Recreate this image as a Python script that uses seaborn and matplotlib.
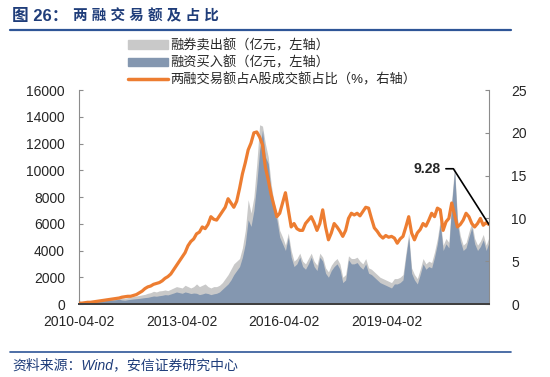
import numpy as np
import pandas as pd
import matplotlib
matplotlib.use('Agg')
import matplotlib.pyplot as plt
import matplotlib.dates as mdates
from matplotlib.patches import Patch
from matplotlib.lines import Line2D
import seaborn as sns

# monthly readings, 2010-04 .. 2022-03
buy = [40, 60, 80, 100, 120, 150, 170, 200, 220, 250, 280, 300,
       300, 320, 350, 300, 280, 320, 350, 380, 400, 420, 450, 480,
       500, 550, 600, 580, 620, 650, 700, 680, 750, 820, 900, 850,
       800, 900, 850, 780, 820, 800, 700, 750, 820, 780, 700, 760,
       800, 900, 1100, 1300, 1500, 1800, 2200, 2500, 2800, 3500, 4500, 6300,
       5800, 7000, 9000, 11500, 13000, 11000, 10500, 8300, 7000, 6300, 5000, 4500,
       4000, 5000, 3500, 2800, 3000, 3500, 2800, 2600, 3000, 3500, 2800, 2500,
       3500, 3200, 2300, 2000, 2500, 2800, 3000, 2600, 1600, 1800, 3300, 3000,
       3000, 3100, 2800, 2600, 3000, 2300, 2200, 2000, 1800, 1600, 1500, 1400,
       1300, 1200, 1500, 1500, 1600, 1800, 3500, 5000, 2300, 1800, 1500, 2200,
       3000, 2600, 2800, 2700, 3500, 4500, 6000, 4000, 4500, 4200, 7500, 10000,
       6000, 4700, 4000, 4200, 5000, 5700, 4500, 4000, 4300, 4800, 4000, 4600]

sell = [80, 110, 140, 170, 200, 240, 260, 300, 330, 360, 400, 420,
        450, 480, 520, 460, 430, 480, 520, 560, 600, 640, 680, 720,
        800, 850, 950, 900, 980, 1000, 1050, 1000, 1100, 1200, 1300, 1250,
        1200, 1400, 1300, 1200, 1300, 1500, 1300, 1400, 1500, 1300, 1200, 1300,
        1300, 1400, 1600, 1900, 2200, 2600, 3000, 3200, 3400, 4200, 5500, 7800,
        6800, 8000, 10500, 13400, 13300, 12000, 11000, 9000, 7600, 6800, 5500, 5000,
        4400, 5300, 4000, 3200, 3400, 3800, 3200, 3000, 3400, 3800, 3200, 2900,
        3800, 3500, 2700, 2400, 2900, 3200, 3400, 3000, 2000, 2200, 3600, 3400,
        3400, 3500, 3200, 3000, 3400, 2700, 2600, 2400, 2200, 2000, 1900, 1800,
        1700, 1600, 1900, 1900, 2000, 2200, 3800, 5300, 2700, 2200, 1900, 2600,
        3400, 3000, 3200, 3100, 3900, 4900, 6300, 4400, 4900, 4600, 7800, 10300,
        6400, 5100, 4400, 4600, 5400, 6100, 4900, 4400, 4700, 5200, 4400, 5000]

ratio = [0.1, 0.1, 0.15, 0.2, 0.2, 0.25, 0.3, 0.35, 0.4, 0.45, 0.5, 0.55,
         0.6, 0.65, 0.7, 0.8, 0.85, 0.9, 0.9, 1.0, 1.1, 1.3, 1.5, 1.8,
         2.0, 2.1, 2.3, 2.4, 2.5, 2.7, 3.0, 3.2, 3.5, 4.0, 4.5, 5.0,
         5.5, 6.0, 6.8, 7.3, 7.6, 8.2, 8.4, 9.0, 8.8, 9.3, 10.2, 9.9,
         9.8, 10.3, 10.8, 11.3, 12.3, 11.8, 11.3, 12.0, 13.5, 15.2, 16.5, 18.0,
         18.8, 20.0, 20.1, 19.5, 18.6, 16.0, 14.5, 12.8, 11.5, 10.2, 10.6, 11.8,
         13.0, 11.0, 9.0, 9.4, 8.8, 8.6, 8.6, 9.4, 9.8, 10.2, 9.5, 8.6,
         9.4, 11.0, 9.0, 7.5, 8.3, 9.4, 9.0, 8.5, 7.9, 8.6, 10.0, 10.6,
         10.4, 10.6, 10.3, 10.8, 11.3, 11.2, 10.0, 8.9, 8.5, 8.0, 7.7, 8.0,
         7.8, 7.9, 7.7, 7.1, 7.6, 7.9, 9.0, 10.2, 8.3, 7.5, 8.3, 8.7,
         9.4, 9.1, 9.8, 10.6, 10.2, 11.2, 11.0, 8.6, 9.6, 10.0, 11.8, 10.4,
         9.0, 9.3, 9.8, 10.6, 10.2, 9.4, 9.0, 9.4, 10.0, 9.2, 9.5, 9.28]

tick_dates = ['2010-04-02', '2013-04-02', '2016-04-02', '2019-04-02']
labels = ['融券卖出额（亿元，左轴）', '融资买入额（亿元，左轴）', '两融交易额占A股成交额占比（%，右轴）']

dates = pd.date_range('2010-04-02', '2022-03-25', periods=len(buy))

sns.set_style('ticks')
plt.rcParams['font.family'] = ['Liberation Sans', 'Noto Sans CJK SC']
plt.rcParams['axes.unicode_minus'] = False

c_gray = '#C9C9C9'
c_blue = '#8497B0'
c_orange = '#ED7D31'
c_title = '#1F3D7A'

fig = plt.figure(figsize=(5.5, 3.77), dpi=100)
ax = fig.add_axes([79/550, 1-304/377, 410/550, 214/377])

ax.fill_between(dates, sell, color=c_gray, lw=0)
ax.fill_between(dates, buy, color=c_blue, lw=0)
ax.set_ylim(0, 16000)
ax.set_yticks(range(0, 16001, 2000))
ax.set_xlim(pd.Timestamp('2010-04-02'), pd.Timestamp('2022-03-25'))
ax.set_xticks(pd.to_datetime(tick_dates))
ax.xaxis.set_major_formatter(mdates.DateFormatter('%Y-%m-%d'))

ax2 = ax.twinx()
sns.lineplot(x=dates, y=ratio, ax=ax2, color=c_orange, lw=2.3, legend=False)
ax2.set_ylim(0, 25)
ax2.set_yticks(range(0, 26, 5))
ax2.set_ylabel('')

for a in (ax, ax2):
    a.spines['top'].set_visible(False)
    a.spines['left'].set_color('#8C8C8C')
    a.spines['right'].set_color('#8C8C8C')
    a.spines['bottom'].set_color('#404040')
    a.spines['bottom'].set_linewidth(1.4)
ax.spines['right'].set_visible(False)
ax2.spines['left'].set_visible(False)

ax.tick_params(axis='y', direction='in', length=3, color='#8C8C8C', labelsize=10, pad=10)
ax.tick_params(axis='x', direction='in', length=3, color='#404040', labelsize=10, pad=8)
ax2.tick_params(axis='y', direction='in', length=3, color='#8C8C8C', labelsize=10, pad=16)

# label of the last ratio value with an elbow leader
elbow_a = pd.Timestamp('2020-12-20')
elbow_b = pd.Timestamp('2021-03-10')
ax2.plot([elbow_a, elbow_b, dates[-1]], [15.8, 15.8, ratio[-1]], color='black', lw=1.2)
ax2.text(elbow_a - pd.Timedelta(days=60), 15.8, f'{ratio[-1]:.2f}', ha='right', va='center',
         fontsize=10, fontweight='bold')

handles = [Patch(color=c_gray), Patch(color=c_blue), Line2D([], [], color=c_orange, lw=2.5)]
fig.legend(handles, labels, loc='upper left', bbox_to_anchor=(128/550, 1-39/377), frameon=False,
           fontsize=9.5, handlelength=3.0, handleheight=0.6, handletextpad=0.2,
           labelspacing=0.3, borderpad=0, borderaxespad=0)

# header and footer
fig.text(12/550, 1-16/377, '图 26：', ha='left', va='center', fontsize=12,
         fontweight='bold', color=c_title)
fig.text(73/550, 1-16/377, ' '.join('两融交易额及占比'), ha='left', va='center', fontsize=10.5,
         fontweight='bold', color=c_title)
fig.add_artist(Line2D([10/550, 511/550], [1-29.5/377, 1-29.5/377], color='#2E5597', lw=1.6))
fig.add_artist(Line2D([10/550, 511/550], [1-352/377, 1-352/377], color='#2E5597', lw=1.2))
fig.text(12/550, 1-365/377, '资料来源：Wind，安信证券研究中心', ha='left', va='center',
         fontsize=10, style='italic', color=c_title)

fig.savefig('out.png', dpi=100)
